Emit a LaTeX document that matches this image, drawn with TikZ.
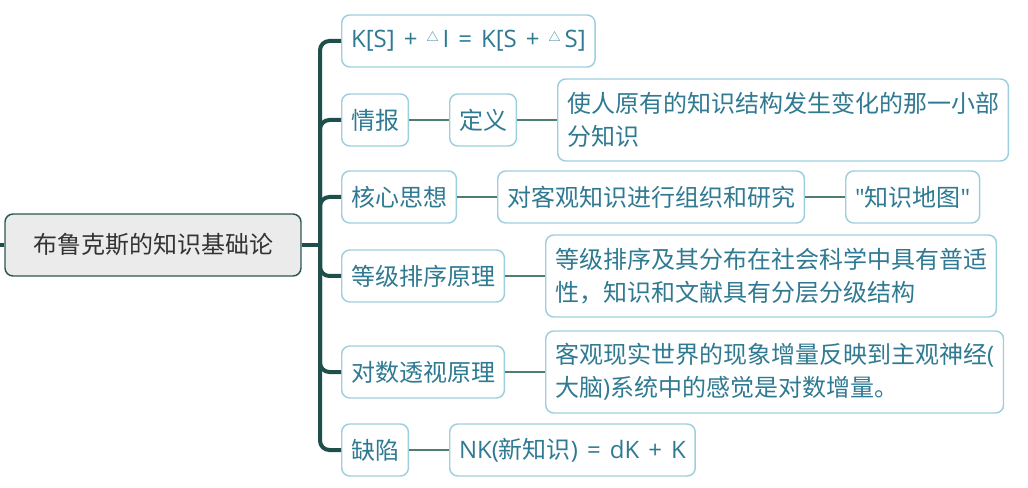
\documentclass[tikz,border=0pt]{standalone}
\usepackage{fontspec}
\setmainfont{Noto Sans CJK SC}[Ligatures=TeXOff]
\newfontfamily\latfont{Open Sans}[Ligatures=TeXOff, WordSpace=1.45]
\usepackage{xcolor}
\usetikzlibrary{positioning}
\definecolor{busGreen}{HTML}{1F4F4A}
\definecolor{linkGreen}{HTML}{4E7D74}
\definecolor{boxBlue}{HTML}{9ECFDE}
\definecolor{textBlue}{HTML}{2F7A92}
\definecolor{rootGray}{HTML}{EBEBEB}
\definecolor{rootEdge}{HTML}{2B5752}
\newcommand{\deltri}{\raisebox{0.5ex}{\fontsize{9}{9}\selectfont △}}
\newcommand{\lat}[1]{{\latfont #1}}

\begin{document}
\begin{tikzpicture}[
    x=0.75pt, y=-0.75pt,
    every node/.style={font=\fontsize{18}{25}\selectfont},
    topic/.style={draw=boxBlue, line width=1.1pt, rounded corners=6pt, fill=white,
        text=textBlue, minimum height=39pt, inner xsep=7pt, anchor=west, align=left},
    longtopic/.style={topic, minimum height=61.5pt},
    rootbox/.style={draw=rootEdge, line width=1.1pt, rounded corners=6pt, fill=rootGray,
        text=black!80, minimum width=222pt, minimum height=46.5pt},
    bus/.style={draw=busGreen, line width=3pt, rounded corners=7pt},
    link/.style={draw=linkGreen, line width=1.1pt},
]
    \useasboundingbox (0,0) rectangle (1028,488);

    % Root
    \coordinate (stub) at (0,245);
    \node[rootbox] (root) at (153,245) {布鲁克斯的知识基础论};
    \coordinate (hub) at (320,245);

    % First level
    \node[topic] (ksk) at (341,41) {\lat{K[S] + }\deltri\lat{\,I = K[S + }\deltri\lat{\,S]}};
    \node[topic] (qb) at (341,120) {情报};
    \node[topic] (hx) at (341,197) {核心思想};
    \node[topic] (dj) at (341,276) {等级排序原理};
    \node[topic] (ds) at (341,372) {对数透视原理};
    \node[topic] (qx) at (341,450) {缺陷};

    % Second level
    \node[topic] (dy) at (449,120) {定义};
    \node[longtopic] (dyText) at (557,120) {使人原有的知识结构发生变化的那一小部\\分知识};
    \node[topic] (hxText) at (497,197) {对客观知识进行组织和研究};
    \node[topic] (zsdt) at (845,197) {\lat{"}知识地图\lat{"}};
    \node[longtopic] (djText) at (545,276) {等级排序及其分布在社会科学中具有普适\\性，知识和文献具有分层分级结构};
    \node[longtopic] (dsText) at (545,372) {客观现实世界的现象增量反映到主观神经\lat{(}\\大脑\lat{)}系统中的感觉是对数增量。};
    \node[topic] (qxText) at (449,450) {\lat{NK(}新知识\lat{) = dK + K}};

    % Bus
    \draw[bus] (stub) -- (root.west);
    \draw[bus] (root.east) -- (hub);
    \foreach \n in {ksk, qb, hx, dj, ds, qx}
        \draw[bus] (hub) |- (\n.west);

    % Links
    \draw[link] (qb) -- (dy);
    \draw[link] (dy) -- (dyText);
    \draw[link] (hx) -- (hxText);
    \draw[link] (hxText) -- (zsdt);
    \draw[link] (dj) -- (djText);
    \draw[link] (ds) -- (dsText);
    \draw[link] (qx) -- (qxText);
\end{tikzpicture}
\end{document}
